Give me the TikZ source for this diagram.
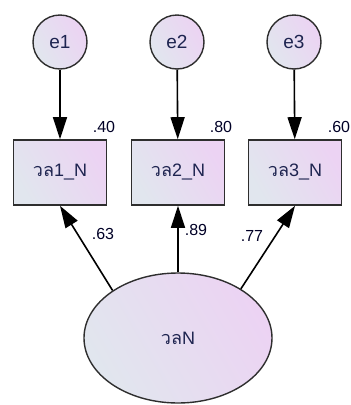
\documentclass[tikz,border=0pt]{standalone}
\usepackage{fontspec}
\setmainfont{Liberation Sans}
\newfontfamily\thaifont[Script=Thai]{Loma}
\usetikzlibrary{shapes.geometric,arrows.meta}
\definecolor{fillA}{HTML}{E1E6EE}
\definecolor{fillB}{HTML}{ECD3F3}
\definecolor{edgec}{HTML}{2E2E2E}
\definecolor{txtc}{HTML}{1E2450}
\tikzset{
  grad/.style={left color=fillA, right color=fillB, shading angle=120},
  errc/.style={circle, draw=edgec, line width=1.4pt, grad, minimum size=54pt, inner sep=0pt, font=\fontsize{19}{19}\selectfont, text=txtc},
  obsbox/.style={rectangle, draw=edgec, line width=1.6pt, grad, minimum width=93pt, minimum height=65pt, inner sep=0pt, font=\fontsize{18}{18}\selectfont, text=txtc},
  latent/.style={ellipse, draw=edgec, line width=1.4pt, grad, minimum width=188pt, minimum height=130pt, inner sep=0pt, font=\fontsize{18}{18}\selectfont, text=txtc},
  arr/.style={line width=1.6pt, draw=black, -{Triangle[length=22pt,width=14pt]}},
  lab/.style={font=\fontsize{16}{16}\selectfont, text=black!85!blue, inner sep=0pt}
}
\begin{document}
\begin{tikzpicture}[x=1pt,y=-1pt]
\useasboundingbox (0,0) rectangle (351,405);
\node[errc] (e1) at (60,42) {e1};
\node[errc] (e2) at (177,42) {e2};
\node[errc] (e3) at (294,42) {e3};
\node[obsbox] (b1) at (60,172.5) {{\thaifont วล}1\_N};
\node[obsbox] (b2) at (178,172.5) {{\thaifont วล}2\_N};
\node[obsbox] (b3) at (295,172.5) {{\thaifont วล}3\_N};
\node[latent] (L) at (178,338) {{\thaifont วล}N};
\draw[arr] (e1) -- (b1);
\draw[arr] (e2) -- (b2);
\draw[arr] (e3) -- (b3);
\draw[arr] (L.144) -- (b1.south);
\draw[arr] (L.north) -- (b2.south);
\draw[arr] (L.38) -- (b3.south);
\node[lab] (l1) at (104,127) {.40};
\node[lab] (l2) at (221,127) {.80};
\node[lab] (l3) at (339,127) {.60};
\node[lab] (l4) at (103,234) {.63};
\node[lab] (l5) at (196,230) {.89};
\node[lab] (l6) at (252,236) {.77};
\end{tikzpicture}
\end{document}
